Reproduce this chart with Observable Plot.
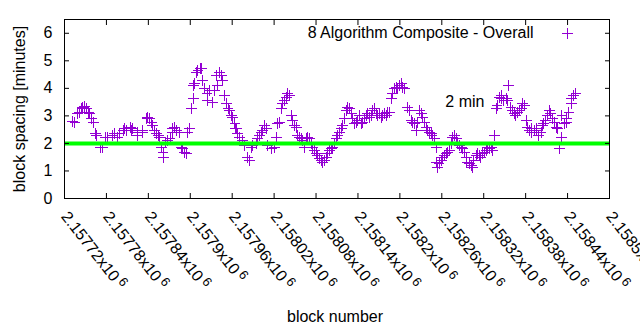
<!DOCTYPE html>
<html><head><meta charset="utf-8">
<script src="https://cdn.jsdelivr.net/npm/d3@7"></script>
<script src="https://cdn.jsdelivr.net/npm/@observablehq/plot@0.6"></script>
<style>
html,body{margin:0;padding:0;background:#fff;overflow:hidden}
</style>
</head><body><div id="chart"></div>
<script>
// ---- data ----
const blocks = [
2157732,2157735,2157738,2157742,2157745,2157746,2157749,2157752,2157754,2157756,
2157759,2157761,2157764,2157766,2157771,2157774,2157778,2157782,2157788,2157792,
2157796,2157799,2157804,2157806,2157809,2157814,2157816,2157818,2157824,2157825,
2157831,2157832,2157838,2157839,2157842,2157845,2157846,2157849,2157852,2157854,
2157856,2157859,2157861,2157862,2157864,2157868,2157871,2157874,2157875,2157878,
2157881,2157885,2157888,2157889,2157892,2157895,2157896,2157899,2157902,2157904,
2157905,2157906,2157909,2157911,2157914,2157916,
2157918,2157921,2157924,2157925,2157928,2157932,2157935,2157938,2157939,2157942,
2157945,2157946,2157949,2157952,2157954,2157956,2157959,2157961,2157964,2157965,
2157966,2157968,2157971,2157975,2157978,2157982,2157985,2157988,2157989,2157995,
2157996,2157999,2158002,2158004,2158006,2158009,2158011,2158016,2158021,2158024,
2158025,2158028,2158031,2158032,2158035,2158038,2158039,2158042,2158045,2158046,
2158049,2158052,2158054,2158056,2158059,2158061,2158064,2158066,2158068,2158071,
2158074,2158075,2158078,2158081,2158082,2158085,2158088,2158089,2158092,2158095,
2158096,2158099,2158102,2158104,2158106,2158109,2158111,2158114,2158116,2158118,
2158121,2158124,2158125,2158128,2158131,2158132,2158135,2158138,2158139,2158142,
2158145,2158146,2158149,2158152,2158154,2158156,2158159,2158161,2158164,2158166,
2158168,2158171,2158174,2158175,2158178,2158181,2158182,2158185,2158188,2158189,
2158192,2158195,2158196,2158199,2158202,2158204,2158206,2158211,2158214,2158216,
2158218,2158221,2158224,2158225,2158228,2158231,2158232,2158235,2158238,2158239,
2158242,2158245,2158246,2158249,2158252,2158253,2158254,2158256,2158259,2158261,
2158264,2158266,2158268,2158271,2158274,2158275,2158278,2158281,2158282,2158285,
2158288,2158289,2158292,2158295,2158296,2158299,2158302,2158304,2158306,2158309,
2158311,2158314,2158316,2158318,2158321,2158324,2158325,2158328,2158331,2158332,
2158335,2158338,2158339,2158342,2158345,2158346,2158349,2158352,2158354,2158356,
2158359,2158361,2158364,2158366,2158368,2158371,2158374,2158375,2158378,2158381,
2158382,2158385,2158388,2158389,2158392,2158395,2158396,2158399,2158402,2158404,
2158406,2158409,2158411,2158414,2158416,2158418,2158421,2158424,2158425,2158428,
2158431,2158432,2158435,2158438,2158439,2158442,2158445,2158446,2158449,2158452
];
const spacingMinutes = [
2.80,2.76,3.09,3.13,3.27,3.31,3.35,3.27,3.13,3.09,
2.91,2.76,2.36,2.29,1.85,1.85,2.22,2.22,2.29,2.36,
2.22,2.36,2.47,2.55,2.47,2.58,2.47,2.55,2.40,2.29,
2.40,2.47,2.91,2.95,2.91,2.76,2.65,2.47,2.36,2.29,
2.22,1.85,1.67,1.49,2.04,2.11,2.18,2.40,2.55,2.58,
2.47,2.40,1.85,1.82,1.67,1.64,2.40,2.55,3.27,3.64,
4.11,4.18,4.58,4.65,4.73,4.73,
4.29,4.00,3.82,3.56,3.93,3.49,3.93,4.47,4.11,4.58,
4.47,4.29,3.75,3.45,3.27,3.20,3.02,2.95,2.73,2.55,
2.55,2.36,2.22,2.11,1.93,1.49,1.38,1.85,1.93,2.00,
2.18,2.29,2.40,2.47,2.65,2.55,1.93,1.82,1.85,2.22,
2.73,2.76,3.27,3.45,3.56,3.67,3.82,3.75,3.02,2.84,
2.65,2.58,2.29,2.22,2.18,2.11,1.85,2.18,2.22,2.18,
2.00,1.85,1.75,1.64,1.56,1.45,1.38,1.31,1.38,1.49,
1.64,1.75,1.82,1.85,2.00,2.18,2.29,2.40,2.55,2.65,
2.91,3.20,3.31,3.27,3.09,2.91,2.73,2.76,2.84,3.02,
2.73,2.76,2.91,3.02,3.09,2.95,3.02,3.20,3.27,3.09,
3.02,3.09,2.95,3.02,3.09,3.02,3.13,3.13,3.64,3.82,
4.00,4.04,4.00,4.11,4.18,4.04,4.00,3.31,3.20,2.84,
2.76,2.73,2.47,2.76,3.20,3.09,2.95,2.76,2.58,2.47,
2.40,2.36,2.29,2.18,1.85,1.31,1.13,1.27,1.38,1.49,
1.56,1.64,1.67,1.75,2.00,2.22,2.29,2.18,2.00,1.93,
1.85,1.82,1.67,1.49,1.31,1.27,1.20,1.13,1.38,1.56,
1.64,1.56,1.49,1.64,1.67,1.75,1.85,1.82,1.85,1.75,
2.29,3.27,3.38,3.67,3.75,3.64,3.56,3.64,3.56,4.11,
3.31,3.20,3.09,3.02,3.13,3.20,3.27,3.45,3.38,2.84,
2.58,2.47,2.55,2.40,2.47,2.55,2.47,2.29,2.40,2.65,
2.73,2.84,3.02,3.20,3.09,2.91,2.76,2.58,2.55,1.82,
2.22,3.02,2.73,2.76,2.91,3.13,3.45,3.64,3.75,3.82
];
const xTicks = [2157720,2157780,2157840,2157900,2157960,2158020,2158080,2158140,
                2158200,2158260,2158320,2158380,2158440,2158500];
const yTicks = [0,1,2,3,4,5,6];
const xDomain = [2157720, 2158500];
const yDomain = [0, 6.5];
const seriesName = "8 Algorithm Composite - Overall";
const targetMinutes = [2];
const targetLabel = "2 min";
const targetLabelBlock = 2158265;
const targetLabelMinutes = 3.31;
const xLabel = "block number";
const yLabel = "block spacing [minutes]";

// ---- build ----
const data = blocks.map((b, i) => ({block: b, minutes: spacingMinutes[i]}));
const fmt = d3.format(".6~g");
const violet = "#9400d3";
const markR = 3.6;

const chart = Plot.plot({
  width: 640,
  height: 330,
  marginLeft: 64,
  marginRight: 31,
  marginTop: 19,
  marginBottom: 132,
  style: {fontFamily: "'Liberation Sans', Arial, sans-serif", fontSize: "16px", background: "white", color: "black"},
  x: {domain: xDomain},
  y: {domain: yDomain},
  marks: [
    Plot.dot(data, {x: "block", y: "minutes", symbol: "plus", r: markR, stroke: violet, strokeWidth: 1,
                    shapeRendering: "crispEdges"}),
    Plot.ruleY(targetMinutes, {stroke: "#00ff00", strokeWidth: 4}),
    Plot.frame({stroke: "black", strokeWidth: 1}),
    // y axis labels + inward ticks (left) and mirrored ticks (right)
    Plot.axisY({anchor: "left", ticks: yTicks, tickSize: 0, tickPadding: 12, fontSize: 16,
                tickFormat: d => String(d), label: null}),
    Plot.axisY({anchor: "left", ticks: yTicks, tickSize: -5, tickFormat: () => "", label: null}),
    Plot.axisY({anchor: "right", ticks: yTicks, tickSize: -5, tickFormat: () => "", label: null}),
    // x axis rotated labels + inward ticks (bottom) and mirrored (top)
    Plot.axisX({anchor: "bottom", ticks: xTicks, tickSize: 0, tickPadding: 15, tickRotate: 52,
                textAnchor: "start", lineAnchor: "middle", fontSize: 16,
                tickFormat: d => fmt(d / 1e6) + "x10^6", label: null}),
    Plot.axisX({anchor: "bottom", ticks: xTicks, tickSize: -5, tickFormat: () => "", label: null}),
    Plot.axisX({anchor: "top", ticks: xTicks, tickSize: -5, tickFormat: () => "", label: null}),
    // axis titles
    Plot.text([xLabel], {frameAnchor: "bottom", text: d => d, textAnchor: "middle", dx: -2, dy: 123,
                         lineAnchor: "bottom", fontSize: 16}),
    Plot.text([yLabel], {frameAnchor: "left", text: d => d, textAnchor: "middle", rotate: -90, dx: -40,
                         lineAnchor: "bottom", fontSize: 16}),
    // "2 min" annotation
    Plot.text([targetLabel], {x: () => targetLabelBlock, y: () => targetLabelMinutes, text: d => d,
                              textAnchor: "start", lineAnchor: "bottom", fontSize: 16}),
    // key
    Plot.text([seriesName], {frameAnchor: "top-right", text: d => d, textAnchor: "end", lineAnchor: "bottom",
                             dx: -76, dy: 18, fontSize: 16}),
    Plot.dot([seriesName], {frameAnchor: "top-right", symbol: "plus", r: markR, stroke: violet, strokeWidth: 1,
                            shapeRendering: "crispEdges", dx: -42, dy: 14})
  ]
});
document.getElementById("chart").appendChild(chart);

// superscript exponent in the x tick labels
d3.select(chart).selectAll('g[aria-label="x-axis tick label"] text').each(function () {
  const t = this.textContent;
  if (!t.includes("^")) return;
  const [base, exp] = t.split("^");
  const sel = d3.select(this);
  sel.text("");
  sel.append("tspan").text(base);
  sel.append("tspan").attr("dx", 3).attr("dy", -5).attr("font-size", 13).text(exp);
});
</script>
</body></html>
